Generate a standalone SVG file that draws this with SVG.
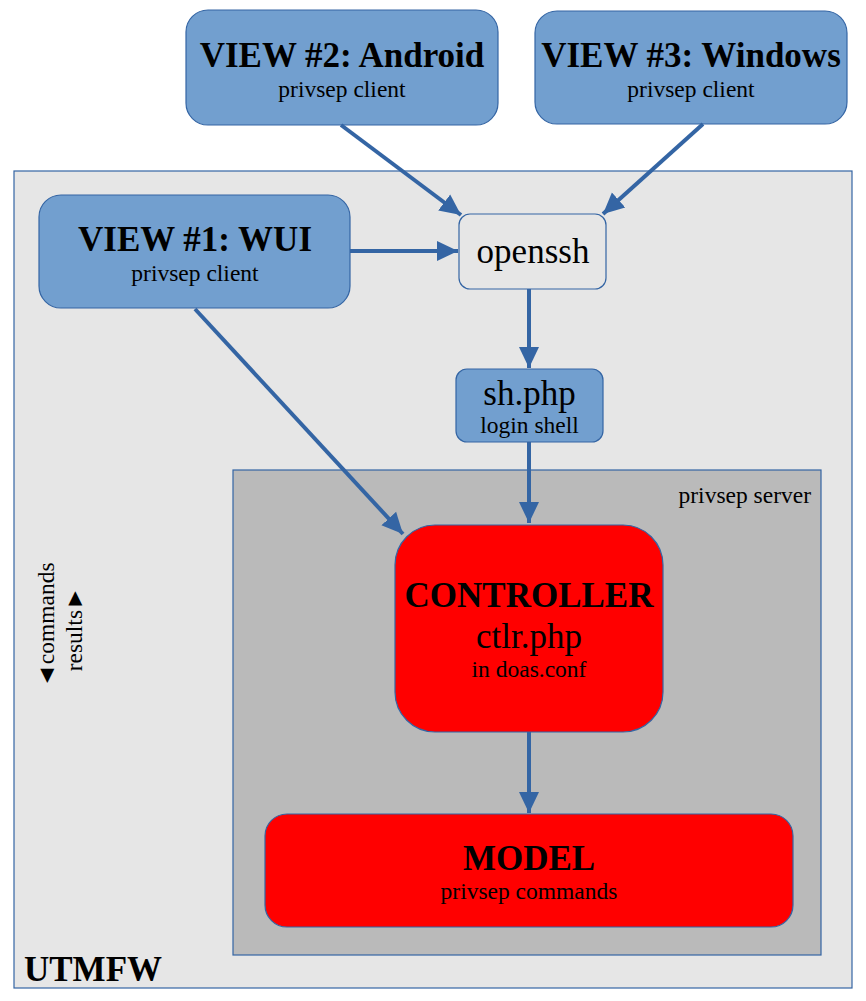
<svg xmlns="http://www.w3.org/2000/svg" width="866" height="1001" viewBox="0 0 866 1001">
<style>
.t{font-family:"Liberation Serif","Times New Roman",serif;fill:#000}
.b{font-weight:bold;font-size:35px}
.s{font-size:23.5px}
.m{font-size:35px}
.blue{fill:#729fcf;stroke:#3465a4;stroke-width:1.2}
.red{fill:#ff0000;stroke:#3465a4;stroke-width:1.2}
.con{stroke:#3465a4;stroke-width:4;fill:none;marker-end:url(#ah)}
</style>
<defs>
<marker id="ah" markerUnits="userSpaceOnUse" markerWidth="22" markerHeight="22" viewBox="0 0 22 22" refX="21" refY="11" orient="auto">
<path d="M0,1 L21,11 L0,21 Z" fill="#3465a4"/>
</marker>
</defs>
<rect width="866" height="1001" fill="#ffffff"/>
<g id="utmfw">
<rect x="14" y="171" width="838" height="817" fill="#e6e6e6" stroke="#3465a4" stroke-width="1.2"/>
<text class="t b" x="24" y="981">UTMFW</text>
</g>
<g id="privsep-server">
<rect x="233" y="470" width="588" height="485" fill="#bababa" stroke="#3465a4" stroke-width="1.2"/>
<text class="t s" x="811" y="503" text-anchor="end">privsep server</text>
</g>
<g id="legend">
<text class="t s" transform="translate(54,625) rotate(-90)" text-anchor="middle">◄commands</text>
<text class="t s" transform="translate(82,629) rotate(-90)" text-anchor="middle">results►</text>
</g>
<g id="view2">
<rect class="blue" x="186" y="10" width="312" height="115" rx="22"/>
<text class="t b" x="342" y="67" text-anchor="middle">VIEW #2: Android</text>
<text class="t s" x="342" y="97" text-anchor="middle">privsep client</text>
</g>
<g id="view3">
<rect class="blue" x="535" y="11" width="312" height="113" rx="22"/>
<text class="t b" x="691" y="67" text-anchor="middle">VIEW #3: Windows</text>
<text class="t s" x="691" y="97" text-anchor="middle">privsep client</text>
</g>
<g id="view1">
<rect class="blue" x="39" y="195" width="311" height="113" rx="22"/>
<text class="t b" x="195" y="251" text-anchor="middle">VIEW #1: WUI</text>
<text class="t s" x="195" y="281" text-anchor="middle">privsep client</text>
</g>
<g id="openssh">
<rect x="459" y="214" width="147" height="75" rx="11" fill="#e6e6e6" stroke="#3465a4" stroke-width="1.2"/>
<text class="t m" x="533" y="263" text-anchor="middle">openssh</text>
</g>
<g id="shphp">
<rect class="blue" x="456" y="369" width="147" height="73" rx="11"/>
<text class="t m" x="529.5" y="405" text-anchor="middle">sh.php</text>
<text class="t s" x="529.5" y="433" text-anchor="middle">login shell</text>
</g>
<g id="controller">
<rect class="red" x="395" y="525" width="268" height="207" rx="40"/>
<text class="t b" x="529" y="607" text-anchor="middle">CONTROLLER</text>
<text class="t m" x="529" y="648" text-anchor="middle">ctlr.php</text>
<text class="t s" x="529" y="677" text-anchor="middle">in doas.conf</text>
</g>
<g id="model">
<rect class="red" x="265" y="814" width="528" height="113" rx="22"/>
<text class="t b" x="529" y="870" text-anchor="middle">MODEL</text>
<text class="t s" x="529" y="899" text-anchor="middle">privsep commands</text>
</g>
<g id="connectors">
<line class="con" x1="341" y1="125" x2="461" y2="215"/>
<line class="con" x1="703" y1="124" x2="603" y2="214"/>
<line class="con" x1="350" y1="251" x2="458" y2="251"/>
<line class="con" x1="529" y1="289" x2="529" y2="368"/>
<line class="con" x1="529" y1="442" x2="529" y2="523"/>
<line class="con" x1="195" y1="309" x2="403" y2="534"/>
<line class="con" x1="529" y1="732" x2="529" y2="813"/>
</g>
</svg>
